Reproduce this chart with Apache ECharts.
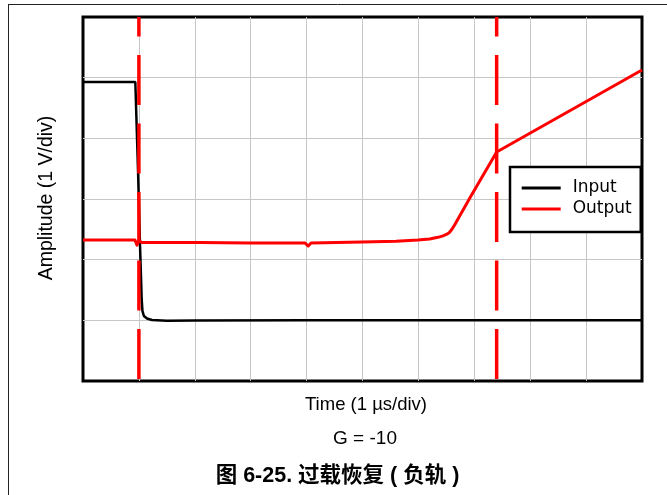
<!DOCTYPE html>
<html>
<head>
<meta charset="utf-8">
<script src="https://cdn.jsdelivr.net/npm/echarts@6/dist/echarts.min.js"></script>
<style>
  html, body { margin: 0; padding: 0; background: #fff; }
  #chart { width: 667px; height: 495px; }
</style>
</head>
<body>
<div id="chart"></div>
<script>
// Time in divisions (1 µs/div), amplitude in divisions (1 V/div), from bottom of screen
const inputTime = [0, 0.936, 0.984, 1.02, 1.05, 1.064, 1.09, 1.145, 1.234, 1.5, 2, 4, 6, 8, 10];
const inputAmp  = [4.93, 4.93, 3.48, 2.24, 1.34, 1.15, 1.07, 1.03, 1.005, 0.995, 0.997, 1.0, 1.0, 1.0, 1.0];

const outputTime = [0, 0.93, 0.966, 1.0, 1.055, 2.09, 2.99, 3.97, 4.03, 4.08, 4.99, 5.6, 5.99, 6.2, 6.35, 6.44, 6.5, 6.55, 6.6, 6.65, 6.92, 7.40, 10];
const outputAmp  = [2.324, 2.324, 2.24, 2.31, 2.283, 2.283, 2.275, 2.275, 2.225, 2.275, 2.29, 2.305, 2.324, 2.342, 2.368, 2.392, 2.415, 2.445, 2.5, 2.575, 3.015, 3.775, 5.126];

const cursorTimes = [1.0, 7.40];

const xDivs = 10;
const yDivs = 6;

const seriesNames = ['Input', 'Output'];

const xLabel = 'Time (1 \u00B5s/div)';
const yLabel = 'Amplitude (1 V/div)';
const gainLabel = 'G = -10';
const caption = '图 6-25. 过载恢复 ( 负轨 )';

const zip = (xs, ys) => xs.map((x, i) => [x, ys[i]]);

const chart = echarts.init(document.getElementById('chart'), null, { renderer: 'canvas' });

const cursorSeries = cursorTimes.map((t) => ({
  type: 'line',
  name: 'cursor',
  data: [[t, yDivs], [t, 0]],
  symbol: 'none',
  silent: true,
  z: 5,
  lineStyle: { color: '#ff0000', width: 3.5, type: [50, 18.5], dashOffset: 30.5 }
}));

chart.setOption({
  animation: false,
  backgroundColor: '#fff',
  grid: {
    left: 83, top: 17, right: 25, bottom: 114,
    show: true, borderColor: '#000', borderWidth: 3, backgroundColor: 'transparent'
  },
  xAxis: {
    type: 'value', min: 0, max: xDivs, interval: 1,
    axisLine: { show: false }, axisTick: { show: false }, axisLabel: { show: false },
    splitLine: { show: true, showMinLine: false, showMaxLine: false, lineStyle: { color: '#c6c6c6', width: 1 } }
  },
  yAxis: {
    type: 'value', min: 0, max: yDivs, interval: 1,
    axisLine: { show: false }, axisTick: { show: false }, axisLabel: { show: false },
    splitLine: { show: true, showMinLine: false, showMaxLine: false, lineStyle: { color: '#c6c6c6', width: 1 } }
  },
  legend: {
    data: seriesNames,
    orient: 'vertical',
    left: 510, top: 167,
    padding: [12, 9, 14, 11.7],
    itemWidth: 39, itemHeight: 3, itemGap: 3,
    icon: 'rect',
    backgroundColor: '#fff',
    borderColor: '#000', borderWidth: 2.5, borderRadius: 0,
    textStyle: { fontFamily: '"DejaVu Sans"', fontSize: 17, lineHeight: 18, color: '#000', padding: [0, 0, 0, 7] }
  },
  series: [
    {
      type: 'line', name: seriesNames[0], data: zip(inputTime, inputAmp),
      symbol: 'none', color: '#000', z: 3,
      lineStyle: { color: '#000', width: 2.5 }
    },
    {
      type: 'line', name: seriesNames[1], data: zip(outputTime, outputAmp),
      symbol: 'none', color: '#ff0000', z: 4,
      lineStyle: { color: '#ff0000', width: 3, join: 'round' }
    }
  ].concat(cursorSeries),
  graphic: [
    { type: 'line', shape: { x1: 8, y1: 4.5, x2: 667, y2: 4.5 }, style: { stroke: '#222', lineWidth: 1 }, silent: true },
    { type: 'line', shape: { x1: 8.5, y1: 4, x2: 8.5, y2: 495 }, style: { stroke: '#222', lineWidth: 1 }, silent: true },
    { type: 'text', x: 47, y: 198, rotation: Math.PI / 2,
      style: { text: yLabel, font: '19.5px "Liberation Sans"', fill: '#000', textAlign: 'center', textVerticalAlign: 'middle' } },
    { type: 'text', x: 366, y: 405,
      style: { text: xLabel, font: '18.5px "Liberation Sans"', fill: '#000', textAlign: 'center', textVerticalAlign: 'middle' } },
    { type: 'text', x: 365, y: 439,
      style: { text: gainLabel, font: '19px "Liberation Sans"', fill: '#000', textAlign: 'center', textVerticalAlign: 'middle' } },
    { type: 'text', x: 337.5, y: 476,
      style: { text: caption, font: 'bold 21.5px "Liberation Sans", "Noto Sans CJK SC"', fill: '#000', textAlign: 'center', textVerticalAlign: 'middle' } }
  ]
});
</script>
</body>
</html>
